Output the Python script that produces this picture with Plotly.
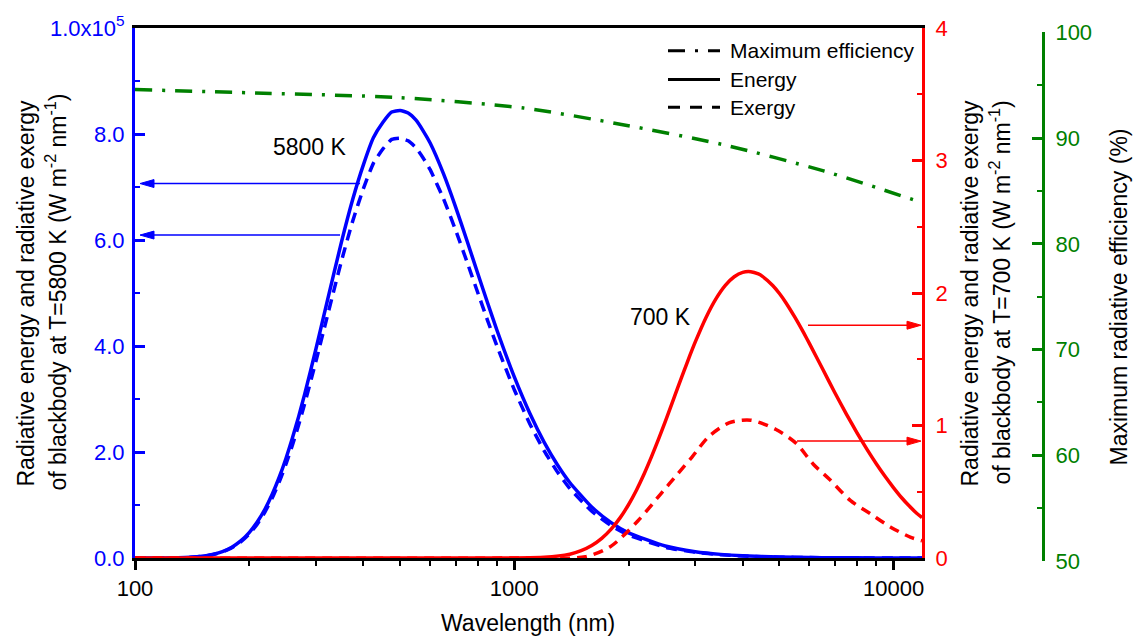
import plotly.graph_objects as go

# ---------------- data ----------------
# 5800 K blackbody, spectral energy and exergy (W m-2 nm-1)
wl_5800 = [100, 120, 130, 140, 150, 160, 170, 180, 190, 200, 210, 220, 230, 240,
           250, 260, 270, 280, 300, 320, 350, 375, 400, 425, 450, 475, 500, 525,
           550, 575, 600, 650, 700, 750, 800, 850, 900, 1000, 1100, 1200, 1300,
           1400, 1600, 1800, 2000, 2500, 3000, 3500, 4000, 5000, 6000, 7000, 8000,
           10000, 11880]
energy_5800 = [1, 16, 52, 140, 324, 659, 1212, 2048, 3229, 4800, 6787, 9203, 12030,
               15240, 18790, 22630, 26670, 30880, 39480, 47950, 59550, 67690, 74180,
               79290, 82160, 84150, 84440, 83960, 82650, 80600, 78290, 72560, 66260,
               59910, 53820, 48150, 42980, 34170, 27220, 21780, 17550, 14250, 9610,
               6672, 4760, 2260, 1200, 691, 425, 186, 94, 52, 31, 13, 7]
exergy_5800 = [1, 15, 49, 132, 306, 622, 1144, 1933, 3046, 4526, 6398, 8674, 11330,
               14360, 17700, 21300, 25100, 29060, 37150, 45100, 55980, 63610, 69690,
               74470, 77150, 78980, 79210, 78710, 77440, 75480, 73280, 67840, 61890,
               55910, 50190, 44850, 39990, 31740, 25250, 20170, 16220, 13140, 8820,
               6105, 4340, 2040, 1076, 618, 378, 164, 82, 45, 27, 11, 6]

# 700 K blackbody, spectral energy (W m-2 nm-1)
wl_700 = [100, 1000, 1200, 1400, 1500, 1600, 1700, 1800, 1900, 2000, 2100, 2200,
          2300, 2400, 2500, 2600, 2700, 2800, 2900, 3000, 3200, 3400, 3600, 3800,
          4000, 4200, 4400, 4500, 4800, 5000, 5200, 5500, 5800, 6000, 6500, 7000,
          7500, 8000, 8500, 9000, 9500, 10000, 10500, 11000, 11500, 11880]
energy_700 = [0, 0.0004, 0.0055, 0.029, 0.055, 0.094, 0.148, 0.218, 0.303, 0.402,
              0.514, 0.636, 0.765, 0.897, 1.030, 1.162, 1.289, 1.411, 1.525, 1.631,
              1.814, 1.956, 2.058, 2.123, 2.156, 2.161, 2.144, 2.128, 2.057, 1.996,
              1.927, 1.814, 1.697, 1.618, 1.426, 1.247, 1.088, 0.947, 0.822, 0.712,
              0.615, 0.530, 0.455, 0.392, 0.338, 0.305]
# 700 K blackbody, spectral exergy (W m-2 nm-1)
wl_700_ex = [100, 1000, 1540, 1800, 2116, 2443, 2705, 2937, 3251, 3679, 4200, 4897,
             5538, 6133, 6796, 7686, 8686, 9820, 11100, 11880]
exergy_700 = [0, 0, 0.01, 0.09, 0.28, 0.49, 0.64, 0.76, 0.915, 1.02, 1.04, 0.97,
              0.865, 0.71, 0.59, 0.435, 0.334, 0.233, 0.156, 0.13]

# maximum radiative efficiency (%)
wl_eff = [100, 218, 490, 1058, 1916, 3538, 6537, 11880]
eff = [94.6, 94.25, 93.85, 92.85, 91.3, 89.4, 86.9, 83.9]

left_tickvals = [0, 20000, 40000, 60000, 80000, 100000]
left_ticktext = ["0.0", "2.0", "4.0", "6.0", "8.0", "1.0x10<sup>5</sup>"]
x_tickvals = [100, 1000, 10000]
x_ticktext = ["100", "1000", "10000"]
x_minor = [200, 300, 400, 500, 600, 700, 800, 900,
           2000, 3000, 4000, 5000, 6000, 7000, 8000, 9000]

# ---------------- layout geometry ----------------
W, H = 1138, 640
L, R, T, B = 135, 95, 23, 79
PW = W - L - R
PH = H - T - B


def px(xp):
    return (xp - L) / PW


def py(yp):
    return (H - B - yp) / PH


BLUE = "#0000ff"
RED = "#ff0000"
GREEN = "#008000"
FONT = "Liberation Sans, Arial, sans-serif"
TICK_FS = 22
TITLE_FS = 23

DASH_EX = "11px,7px"
DASH_EFF = "17px,10px,3px,10px"

fig = go.Figure()

fig.add_trace(go.Scatter(x=wl_5800, y=energy_5800, mode="lines",
                         line=dict(color=BLUE, width=3.5, shape="spline", smoothing=0.5),
                         yaxis="y", showlegend=False))
fig.add_trace(go.Scatter(x=wl_5800, y=exergy_5800, mode="lines",
                         line=dict(color=BLUE, width=3.5, dash=DASH_EX,
                                   shape="spline", smoothing=0.5),
                         yaxis="y", showlegend=False))
fig.add_trace(go.Scatter(x=wl_700, y=energy_700, mode="lines",
                         line=dict(color=RED, width=3.5, shape="spline", smoothing=0.5),
                         yaxis="y2", showlegend=False))
fig.add_trace(go.Scatter(x=wl_700_ex, y=exergy_700, mode="lines",
                         line=dict(color=RED, width=3.5, dash="10px,7px",
                                   shape="spline", smoothing=0.8),
                         yaxis="y2", showlegend=False))
fig.add_trace(go.Scatter(x=wl_eff, y=eff, mode="lines",
                         line=dict(color=GREEN, width=3.5, dash=DASH_EFF,
                                   shape="spline", smoothing=0.8),
                         yaxis="y3", showlegend=False))

shapes = []
annotations = []


def arrow(x_tail, x_tip, y, color):
    d = 1 if x_tip > x_tail else -1
    base = x_tip - d * 14
    shapes.append(dict(type="line", xref="paper", yref="paper",
                       x0=px(x_tail), x1=px(base), y0=py(y), y1=py(y),
                       line=dict(color=color, width=1.5)))
    path = (f"M{px(x_tip)},{py(y)} L{px(base)},{py(y - 4)} "
            f"L{px(base)},{py(y + 4)} Z")
    shapes.append(dict(type="path", xref="paper", yref="paper", path=path,
                       fillcolor=color, line=dict(color=color, width=1)))


def label(text, xx, yy, size, angle=0, xanchor="center"):
    annotations.append(dict(text=text, xref="paper", yref="paper",
                            x=px(xx), y=py(yy), xanchor=xanchor, yanchor="middle",
                            textangle=angle, showarrow=False,
                            font=dict(size=size, color="black")))


arrow(360, 140, 180, BLUE)
arrow(340, 140, 232, BLUE)
arrow(808, 921, 323, RED)
arrow(797, 921, 440, RED)

# legend
legend_items = [("Maximum efficiency", DASH_EFF, 46),
                ("Energy", "solid", 75),
                ("Exergy", "12px,10px", 103)]
for name, dash, yy in legend_items:
    shapes.append(dict(type="line", xref="paper", yref="paper",
                       x0=px(668), x1=px(720), y0=py(yy), y1=py(yy),
                       line=dict(color="black", width=3, dash=dash)))
    label(name, 728, yy, 21, xanchor="left")

label("5800 K", 310, 143, TITLE_FS)
label("700 K", 660, 315, TITLE_FS)

# axis titles
label("Wavelength (nm)", 528, 624, TITLE_FS)
label("Radiative energy and radiative exergy", 26, 291, TITLE_FS, angle=-90)
label("of blackbody at T=5800 K (W m<sup>-2</sup> nm<sup>-1</sup>)", 56, 290,
      TITLE_FS, angle=-90)
label("Radiative energy and radiative exergy", 970, 291, TITLE_FS, angle=-90)
label("of blackbody at T=700 K (W m<sup>-2</sup> nm<sup>-1</sup>)", 1000, 290,
      TITLE_FS, angle=-90)
label("Maximum radiative efficiency (%)", 1119, 295, TITLE_FS, angle=-90)

fig.update_layout(
    width=W, height=H,
    margin=dict(l=L, r=R, t=T, b=B, pad=0),
    paper_bgcolor="white",
    plot_bgcolor="rgba(0,0,0,0)",
    font=dict(family=FONT, size=TICK_FS, color="black"),
    showlegend=False,
    shapes=shapes,
    annotations=annotations,
    xaxis=dict(
        type="log", range=[2, 4.0748], domain=[0, px(922)], anchor="y",
        tickmode="array", tickvals=x_tickvals, ticktext=x_ticktext,
        ticks="outside", ticklen=9, tickwidth=2.5, tickcolor="black",
        minor=dict(tickmode="array", tickvals=x_minor, ticks="outside",
                   ticklen=5, tickwidth=2, tickcolor="black", showgrid=False),
        showline=True, linecolor="black", linewidth=3, mirror=True,
        showgrid=False, zeroline=False,
        tickfont=dict(size=TICK_FS, color="black"),
    ),
    yaxis=dict(
        range=[0, 100000], domain=[py(558), 1], anchor="x", side="left",
        tickmode="array", tickvals=left_tickvals, ticktext=left_ticktext,
        ticks="inside", ticklen=10, tickwidth=2.5, tickcolor=BLUE,
        minor=dict(dtick=10000, tick0=0, ticks="inside", ticklen=5, tickwidth=2,
                   tickcolor=BLUE, showgrid=False),
        showline=True, linecolor=BLUE, linewidth=3,
        showgrid=False, zeroline=False,
        tickfont=dict(size=TICK_FS, color=BLUE),
        ticklabelstandoff=3,
    ),
    yaxis2=dict(
        range=[0, 4], overlaying="y", anchor="x", side="right",
        tickmode="linear", tick0=0, dtick=1,
        ticks="inside", ticklen=10, tickwidth=2.5, tickcolor=RED,
        minor=dict(dtick=0.5, tick0=0, ticks="inside", ticklen=5, tickwidth=2,
                   tickcolor=RED, showgrid=False),
        showline=True, linecolor=RED, linewidth=3,
        showgrid=False, zeroline=False,
        tickfont=dict(size=TICK_FS, color=RED),
        ticklabelstandoff=6,
    ),
    yaxis3=dict(
        range=[50, 100], domain=[0, py(27.5)], anchor="free", position=1.0,
        side="right",
        tickmode="linear", tick0=50, dtick=10,
        ticks="inside", ticklen=10, tickwidth=2.5, tickcolor=GREEN,
        minor=dict(dtick=5, tick0=50, ticks="inside", ticklen=5, tickwidth=2,
                   tickcolor=GREEN, showgrid=False),
        showline=True, linecolor=GREEN, linewidth=3,
        showgrid=False, zeroline=False,
        tickfont=dict(size=TICK_FS, color=GREEN),
        ticklabelstandoff=6,
    ),
)

fig.write_html("out.html")
